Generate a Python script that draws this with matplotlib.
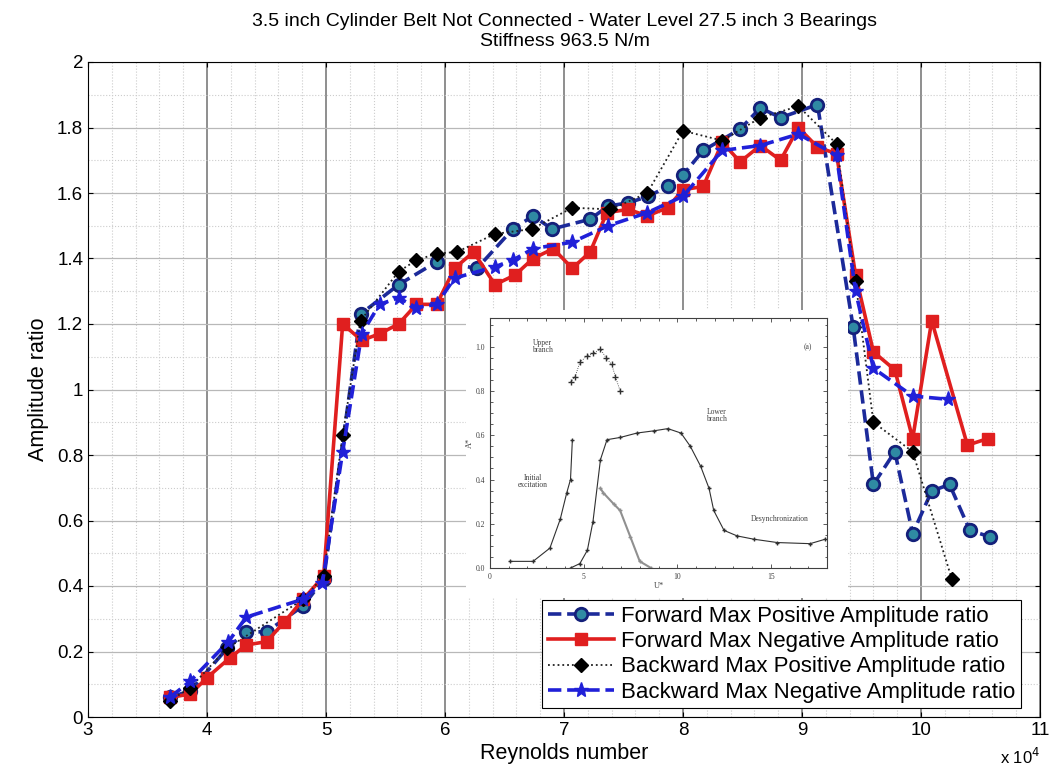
import numpy as np
import matplotlib
matplotlib.use("Agg")
from matplotlib import pyplot as plt
from matplotlib.ticker import MultipleLocator
from matplotlib.patches import Rectangle

plt.rcParams['font.family'] = ['Liberation Sans', 'DejaVu Sans']

# Reynolds number (x 1e4) and amplitude ratios
fp_re = [3.69, 3.86, 4.17, 4.33, 4.50, 4.81, 4.98, 5.29, 5.61, 5.93, 6.27, 6.57, 6.74, 6.90,
         7.22, 7.37, 7.54, 7.71, 7.87, 8.00, 8.17, 8.48, 8.65, 8.82, 9.13, 9.43, 9.60, 9.78,
         9.93, 10.09, 10.24, 10.41, 10.58]
fp_amp = [0.06, 0.08, 0.21, 0.26, 0.26, 0.34, 0.42, 1.23, 1.32, 1.39, 1.37, 1.49, 1.53, 1.49,
          1.52, 1.56, 1.57, 1.59, 1.62, 1.655, 1.73, 1.795, 1.86, 1.83, 1.87, 1.19, 0.71, 0.81,
          0.56, 0.69, 0.71, 0.57, 0.55]

fn_re = [3.69, 3.86, 4.00, 4.19, 4.33, 4.50, 4.65, 4.81, 4.98, 5.14, 5.30, 5.45, 5.61, 5.76,
         5.93, 6.08, 6.24, 6.42, 6.59, 6.74, 6.91, 7.07, 7.22, 7.36, 7.54, 7.70, 7.87, 8.00,
         8.17, 8.33, 8.48, 8.65, 8.82, 8.97, 9.13, 9.29, 9.45, 9.60, 9.78, 9.93, 10.09, 10.39,
         10.56]
fn_amp = [0.06, 0.07, 0.12, 0.18, 0.22, 0.23, 0.29, 0.36, 0.43, 1.20, 1.15, 1.17, 1.20, 1.26,
          1.26, 1.37, 1.42, 1.32, 1.35, 1.40, 1.43, 1.37, 1.42, 1.54, 1.55, 1.53, 1.555, 1.61,
          1.62, 1.755, 1.695, 1.745, 1.70, 1.80, 1.74, 1.72, 1.35, 1.115, 1.06, 0.85, 1.21, 0.83,
          0.85]

bp_re = [3.69, 3.86, 4.17, 4.81, 4.98, 5.14, 5.29, 5.61, 5.76, 5.93, 6.10, 6.42, 6.73, 7.07,
         7.39, 7.70, 8.00, 8.33, 8.65, 8.97, 9.29, 9.45, 9.60, 9.93, 10.26]
bp_amp = [0.05, 0.09, 0.21, 0.36, 0.43, 0.86, 1.21, 1.36, 1.395, 1.415, 1.42, 1.475, 1.49, 1.555,
          1.55, 1.60, 1.79, 1.76, 1.83, 1.865, 1.75, 1.33, 0.90, 0.81, 0.42]

bn_re = [3.69, 3.86, 4.18, 4.33, 4.81, 4.97, 5.14, 5.30, 5.45, 5.61, 5.76, 5.93, 6.08, 6.42,
         6.57, 6.74, 7.07, 7.37, 7.70, 8.00, 8.33, 8.65, 8.97, 9.29, 9.45, 9.60, 9.93, 10.23]
bn_amp = [0.06, 0.11, 0.23, 0.305, 0.36, 0.41, 0.81, 1.17, 1.26, 1.28, 1.25, 1.26, 1.34, 1.375,
          1.395, 1.43, 1.45, 1.50, 1.54, 1.59, 1.73, 1.745, 1.78, 1.715, 1.30, 1.065, 0.98, 0.97]

# inset (scanned reference figure): U* vs A*
init_u = [1.07, 2.3, 3.2, 3.75, 4.1, 4.3, 4.4]
init_a = [0.03, 0.03, 0.09, 0.22, 0.34, 0.40, 0.58]
upper_u = [4.3, 4.55, 4.8, 5.2, 5.5, 5.9, 6.2, 6.5, 6.7, 6.95]
upper_a = [0.84, 0.865, 0.93, 0.96, 0.97, 0.99, 0.95, 0.92, 0.865, 0.80]
lower_u = [4.3, 4.8, 5.2, 5.5, 5.9, 6.25, 6.95, 7.85, 8.75, 9.5, 10.2, 10.7, 11.25, 11.7,
           11.95, 12.5, 13.2, 14.1, 15.35, 17.1, 17.9]
lower_a = [0.0, 0.02, 0.08, 0.21, 0.49, 0.58, 0.59, 0.61, 0.62, 0.63, 0.61, 0.55, 0.46, 0.36,
           0.26, 0.17, 0.145, 0.13, 0.115, 0.11, 0.13]
second_u = [5.9, 6.05, 6.6, 6.95, 7.5, 8.0, 8.6]
second_a = [0.36, 0.34, 0.29, 0.26, 0.14, 0.03, 0.0]

fig = plt.figure(figsize=(10.64, 7.72), dpi=100)
ax = fig.add_axes([88/1064, 55/772, 952/1064, 655/772])

ax.set_xlim(3, 11)
ax.set_ylim(0, 2)
ax.xaxis.set_major_locator(MultipleLocator(1))
ax.xaxis.set_minor_locator(MultipleLocator(0.2))
ax.yaxis.set_major_locator(MultipleLocator(0.2))
ax.yaxis.set_minor_locator(MultipleLocator(0.1))
ax.set_yticks(np.arange(0, 2.01, 0.2))
ax.set_yticklabels(['0', '0.2', '0.4', '0.6', '0.8', '1', '1.2', '1.4', '1.6', '1.8', '2'])
ax.tick_params(which='both', direction='in', top=True, right=True, labelsize=13.5)
ax.tick_params(which='minor', length=0)
ax.grid(True, axis='x', which='major', color='#707070', lw=1.1)
ax.grid(True, axis='y', which='major', color='#b8b8b8', lw=0.9)
ax.grid(True, which='minor', color='#cccccc', lw=0.8, ls=':')
ax.set_axisbelow(True)

ax.plot(fp_re, fp_amp, ls='--', color='#1c2a9a', lw=2.6, marker='o', ms=9,
        mfc='#2f8aa3', mec='#14207a', mew=2, label='Forward Max Positive Amplitude ratio')
ax.plot(fn_re, fn_amp, ls='-', color='#e01f1f', lw=2.6, marker='s', ms=8.5,
        mfc='#e01f1f', mec='#e01f1f', label='Forward Max Negative Amplitude ratio')
ax.plot(bp_re, bp_amp, ls=':', color='#202020', lw=1.3, marker='D', ms=7.5,
        mfc='black', mec='black', label='Backward Max Positive Amplitude ratio')
ax.plot(bn_re, bn_amp, ls='--', color='#2020d8', lw=2.6, marker='*', ms=11,
        mfc='#2020d8', mec='#2020d8', label='Backward Max Negative Amplitude ratio')

ax.set_xlabel('Reynolds number', fontsize=15.5, labelpad=3)
ax.set_ylabel('Amplitude ratio', fontsize=15.5, labelpad=6)
fig.text(565/1064, 1 - 22/772, '3.5 inch Cylinder Belt Not Connected - Water Level 27.5 inch 3 Bearings',
         ha='center', va='center', fontsize=14)
fig.text(565/1064, 1 - 41/772, 'Stiffness 963.5 N/m', ha='center', va='center', fontsize=14)
fig.text(1000/1064, 1 - 757/772, 'x 10$^4$', ha='left', va='center', fontsize=12)

leg = ax.legend(loc='lower right', bbox_to_anchor=(0.98, 0.013), fontsize=16,
                frameon=True, fancybox=False, edgecolor='black', framealpha=1,
                borderaxespad=0, handlelength=3.0, handletextpad=0.3, labelspacing=0.2,
                borderpad=0.25)
leg.get_frame().set_linewidth(0.8)

# white patch holding the inset picture
fig.patches.append(Rectangle((466/1064, 1 - 598/772), 382/1064, 288/772,
                             transform=fig.transFigure, facecolor='white', edgecolor='none',
                             zorder=5))

axi = fig.add_axes([490/1064, 1 - 568/772, 337/1064, 250/772], zorder=6)
serif = ['Liberation Serif', 'DejaVu Serif']
axi.plot(init_u, init_a, color='#303030', lw=0.8, marker='+', ms=3)
axi.plot(upper_u, upper_a, color='#303030', lw=0.6, ls=':', marker='+', ms=4)
axi.plot(lower_u, lower_a, color='#303030', lw=0.8, marker='+', ms=3)
axi.plot(second_u, second_a, color='#909090', lw=1.5, marker='+', ms=3)
axi.set_xlim(0, 18)
axi.set_ylim(0, 1.13)
axi.set_xticks([0, 5, 10, 15])
axi.set_yticks([0, 0.2, 0.4, 0.6, 0.8, 1.0])
axi.set_yticklabels(['0.0', '0.2', '0.4', '0.6', '0.8', '1.0'], family=serif)
axi.set_xticklabels(['0', '5', '10', '15'], family=serif)
axi.xaxis.set_minor_locator(MultipleLocator(1))
axi.yaxis.set_minor_locator(MultipleLocator(0.05))
axi.tick_params(which='both', direction='in', top=True, right=True, labelsize=5.5,
                colors='#404040', length=3, width=0.6)
axi.tick_params(which='minor', length=1.8)
for s in axi.spines.values():
    s.set_color('#404040')
    s.set_linewidth(0.8)
axi.set_xlabel('U*', family=serif, fontsize=6, labelpad=1, color='#404040')
axi.set_ylabel('A*', family=serif, fontsize=6, labelpad=1, color='#404040')
axi.text(2.8, 1.0, 'Upper\nbranch', family=serif, fontsize=5.5, ha='center', va='center',
         color='#404040', linespacing=0.9)
axi.text(12.1, 0.69, 'Lower\nbranch', family=serif, fontsize=5.5, ha='center', va='center',
         color='#404040', linespacing=0.9)
axi.text(2.3, 0.39, 'Initial\nexcitation', family=serif, fontsize=5.5, ha='center', va='center',
         color='#404040', linespacing=0.9)
axi.text(15.5, 0.22, 'Desynchronization', family=serif, fontsize=5.5, ha='center', va='center',
         color='#404040')
axi.text(17.0, 1.0, '(a)', family=serif, fontsize=5.5, ha='center', va='center', color='#404040')

fig.savefig('out.png', dpi=100)
